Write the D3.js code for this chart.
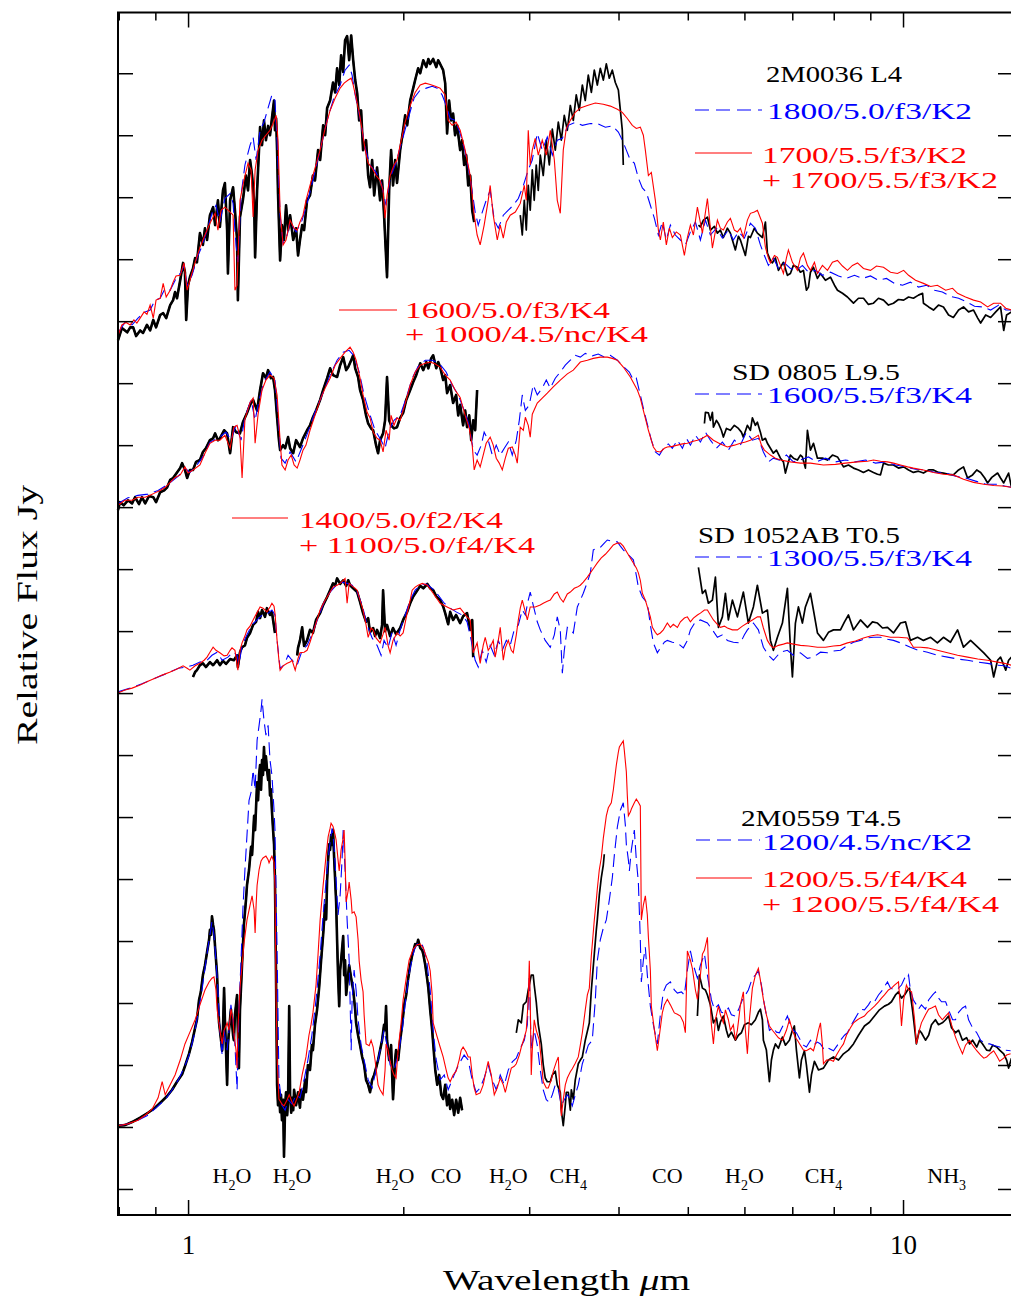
<!DOCTYPE html>
<html>
<head>
<meta charset="utf-8">
<script src="https://cdn.jsdelivr.net/npm/d3@7"></script>
<style>
  body { margin: 0; background: #fff; }
  svg { display: block; }
</style>
</head>
<body>
<script>
// Spectra: [wavelength (µm), relative flux (Jy, offset per object)]; null marks a gap between instruments.

// ---- 2M0036 L4 ----
const obs2M0036 = [
[0.798,13.69],[0.808,13.89],[0.822,13.82],[0.830,13.90],[0.838,13.90],[0.846,13.76],[0.857,13.85],[0.865,13.81],[0.876,13.94],[0.885,13.85],
[0.894,14.02],[0.902,13.90],[0.914,14.10],[0.923,14.13],[0.932,14.05],[0.944,14.26],[0.953,14.34],[0.959,14.47],[0.965,14.37],[0.975,14.66],
[0.984,14.94],[0.990,14.79],[0.994,14.02],[1.000,14.58],[1.006,14.71],[1.016,14.85],[1.023,15.02],[1.029,14.95],[1.039,15.42],[1.049,15.23],
[1.056,15.50],[1.063,15.31],[1.073,15.71],[1.084,15.84],[1.091,15.55],[1.101,15.95],[1.108,15.52],[1.119,16.11],[1.126,16.23],[1.134,15.47],
[1.137,14.77],[1.145,15.95],[1.156,16.16],[1.163,15.79],[1.171,15.31],[1.174,14.34],[1.182,15.68],[1.193,15.95],[1.205,16.35],[1.213,16.11],
[1.221,16.60],[1.229,16.35],[1.237,15.95],[1.241,15.03],[1.249,16.11],[1.261,17.13],[1.269,16.84],[1.277,17.24],[1.285,16.92],[1.294,17.15],
[1.302,17.00],[1.310,17.27],[1.319,17.56],[1.323,17.08],[1.328,17.27],[1.332,16.76],[1.336,16.06],[1.345,14.98],[1.353,15.55],[1.362,15.31],
[1.371,15.87],[1.380,15.47],[1.389,15.71],[1.403,15.31],[1.416,15.50],[1.425,15.06],[1.434,15.31],[1.444,15.55],[1.453,15.47],[1.467,15.95],
[1.481,16.03],[1.495,16.35],[1.505,16.27],[1.520,16.76],[1.530,16.60],[1.545,17.16],[1.555,17.00],[1.565,17.44],[1.580,17.56],[1.595,17.85],
[1.606,17.69],[1.616,18.08],[1.627,17.81],[1.637,18.29],[1.648,18.02],[1.658,18.53],[1.669,18.60],[1.680,18.21],[1.691,18.61],[1.702,18.21],
[1.713,17.89],[1.724,17.68],[1.735,17.24],[1.746,17.40],[1.757,16.76],[1.774,16.92],[1.786,16.35],[1.797,16.16],[1.809,16.60],[1.821,16.03],
[1.838,16.48],[1.856,15.95],[1.868,16.27],[1.880,15.71],[1.898,14.71],[1.911,16.11],[1.923,16.76],[1.935,16.19],[1.948,16.60],[1.960,16.23],
[1.980,16.76],[1.999,17.08],[2.012,17.32],[2.025,17.16],[2.045,17.56],[2.065,17.76],[2.078,17.89],[2.098,18.08],[2.112,18.00],[2.133,18.21],
[2.154,18.10],[2.168,18.23],[2.181,18.15],[2.202,18.23],[2.224,18.10],[2.238,18.21],[2.252,18.15],[2.274,18.05],[2.289,17.84],[2.303,17.03],
[2.318,17.56],[2.333,17.24],[2.348,17.35],[2.363,17.00],[2.379,17.16],[2.402,16.76],[2.417,16.92],[2.433,16.52],[2.449,16.68],[2.465,16.19],
[2.481,16.35],[2.497,15.79],[2.513,15.60],[2.6,null],
[2.915,15.71],[2.934,15.39],[2.953,15.95],[2.972,15.47],[2.991,16.19],[3.010,15.79],[3.030,16.44],[3.049,15.95],[3.069,16.52],[3.089,16.11],
[3.109,16.68],[3.139,16.35],[3.170,16.92],[3.201,16.52],[3.232,17.10],[3.263,16.76],[3.295,17.21],[3.327,16.92],[3.359,17.32],[3.392,17.08],
[3.425,17.48],[3.458,17.24],[3.491,17.65],[3.525,17.40],[3.560,17.81],[3.594,17.56],[3.629,17.97],[3.665,17.69],[3.700,18.05],[3.736,17.81],
[3.772,18.08],[3.809,17.89],[3.846,18.15],[3.883,17.92],[3.921,18.05],[3.959,17.85],[3.998,17.73],[4.024,17.40],[4.049,17.08],[4.062,16.52],[4.5,null],
[5.174,15.55],[5.207,15.52],[5.258,15.63],[5.326,15.68],[5.377,15.47],[5.447,15.53],[5.500,15.42],[5.553,15.47],[5.607,15.35],[5.680,15.50],
[5.735,15.42],[5.828,15.15],[5.885,15.37],[5.923,15.31],[6.019,15.06],[6.077,15.37],[6.117,15.35],[6.196,15.50],[6.256,15.42],[6.358,15.35],
[6.420,15.60],[6.461,15.10],[6.524,14.98],[6.566,14.94],[6.630,15.02],[6.695,14.82],[6.803,14.95],[6.891,14.74],[6.958,14.77],[7.025,14.90],
[7.117,14.87],[7.186,14.79],[7.256,14.82],[7.326,14.50],[7.374,14.55],[7.422,14.79],[7.494,14.87],[7.591,14.69],[7.665,14.77],[7.789,14.66],
[7.916,14.71],[8.019,14.58],[8.097,14.50],[8.228,14.45],[8.361,14.39],[8.443,14.34],[8.525,14.29],[8.664,14.37],[8.804,14.37],[8.946,14.27],
[9.092,14.29],[9.240,14.37],[9.390,14.34],[9.542,14.26],[9.697,14.29],[9.855,14.35],[10.02,14.34],[10.18,14.39],[10.34,14.37],[10.51,14.42],
[10.65,14.45],[10.68,14.29],[10.86,14.23],[11.03,14.18],[11.21,14.26],[11.39,14.23],[11.58,14.10],[11.76,14.06],[11.96,14.18],[12.15,14.23],
[12.35,14.15],[12.55,14.18],[12.72,14.05],[12.84,13.97],[13.05,14.10],[13.26,14.06],[13.48,14.15],[13.69,14.23],[13.83,13.85],[13.96,14.10],[14.18,14.15]
];
const blue2M0036 = [
[0.798,13.81],[0.816,13.98],[0.835,13.94],[0.851,14.05],[0.871,14.15],[0.885,14.18],[0.899,14.34],[0.914,14.37],[0.929,14.53],[0.944,14.50],
[0.962,14.69],[0.978,14.79],[0.987,14.90],[0.997,14.58],[1.013,14.74],[1.029,15.02],[1.046,15.21],[1.063,15.47],[1.080,15.74],[1.094,15.87],
[1.108,15.60],[1.126,15.98],[1.145,16.06],[1.156,15.90],[1.167,15.23],[1.174,14.95],[1.186,16.03],[1.201,16.52],[1.221,16.84],[1.233,16.97],
[1.245,16.60],[1.261,17.08],[1.277,17.21],[1.294,17.44],[1.310,17.65],[1.323,17.56],[1.332,16.92],[1.345,15.71],[1.358,15.26],[1.376,15.39],
[1.389,15.60],[1.416,15.44],[1.444,15.63],[1.467,15.90],[1.495,16.27],[1.530,16.76],[1.565,17.24],[1.600,17.61],[1.632,17.81],[1.658,18.05],
[1.680,18.13],[1.696,17.97],[1.713,17.65],[1.740,17.27],[1.769,16.79],[1.797,16.52],[1.832,16.40],[1.862,16.24],[1.892,15.87],[1.917,16.31],
[1.954,16.56],[1.993,16.92],[2.032,17.27],[2.071,17.60],[2.112,17.73],[2.154,17.76],[2.195,17.79],[2.231,17.76],[2.267,17.65],[2.296,17.48],
[2.326,17.27],[2.363,17.24],[2.402,17.03],[2.441,16.73],[2.481,16.31],[2.521,15.76],[2.546,15.55],[2.571,15.71],[2.612,15.95],[2.646,16.11],
[2.681,15.63],[2.716,15.50],[2.760,15.71],[2.805,15.79],[2.850,15.87],[2.897,15.98],[2.944,16.19],[2.991,16.44],[3.030,16.60],[3.079,17.03],
[3.129,16.76],[3.180,16.97],[3.232,16.68],[3.284,16.92],[3.338,16.95],[3.403,17.16],[3.480,17.21],[3.560,17.16],[3.653,17.19],[3.748,17.18],
[3.834,17.13],[3.921,17.15],[3.998,17.05],[4.049,16.92],[4.102,16.76],[4.155,16.60],[4.209,16.55],[4.264,16.31],[4.319,16.15],[4.375,16.08],
[4.432,15.87],[4.490,15.66],[4.548,15.39],[4.606,15.60],[4.666,15.31],[4.727,15.55],[4.803,15.39],[4.882,15.31],[4.961,15.23],[5.042,15.44],
[5.124,15.60],[5.207,15.31],[5.292,15.63],[5.377,15.39],[5.483,15.50],[5.589,15.34],[5.698,15.47],[5.790,15.31],[5.885,15.44],[6.000,15.34],
[6.117,15.58],[6.216,15.50],[6.317,15.23],[6.399,15.06],[6.482,14.90],[6.587,15.02],[6.695,14.85],[6.825,14.94],[6.958,14.85],[7.094,14.82],
[7.232,14.90],[7.374,14.79],[7.543,14.82],[7.714,14.74],[7.916,14.79],[8.123,14.73],[8.334,14.69],[8.553,14.74],[8.776,14.69],[9.005,14.73],
[9.240,14.66],[9.481,14.69],[9.729,14.61],[9.984,14.58],[10.24,14.63],[10.51,14.55],[10.79,14.58],[11.07,14.50],[11.35,14.47],[11.65,14.40],
[11.96,14.37],[12.27,14.31],[12.59,14.24],[12.92,14.23],[13.26,14.18],[13.61,14.26],[13.92,14.18],[14.18,14.18]
];
const red2M0036 = [
[0.798,13.77],[0.808,13.94],[0.819,13.98],[0.830,13.94],[0.840,14.02],[0.848,13.97],[0.857,14.05],[0.868,14.15],[0.876,14.11],[0.885,14.26],
[0.894,14.05],[0.902,14.34],[0.914,14.37],[0.923,14.61],[0.932,14.39],[0.944,14.50],[0.953,14.63],[0.962,14.73],[0.975,14.74],[0.987,14.94],
[0.997,14.50],[1.006,14.66],[1.023,14.95],[1.039,15.19],[1.056,15.39],[1.073,15.58],[1.091,15.74],[1.101,15.47],[1.112,15.79],[1.126,15.84],
[1.145,15.76],[1.156,15.71],[1.163,14.50],[1.171,14.58],[1.182,15.95],[1.197,16.27],[1.213,16.55],[1.225,16.44],[1.233,15.68],[1.241,16.44],
[1.253,16.76],[1.269,16.92],[1.285,17.00],[1.302,17.08],[1.315,17.19],[1.328,17.32],[1.336,16.92],[1.345,15.79],[1.358,15.23],[1.371,15.31],
[1.389,15.63],[1.407,15.50],[1.421,15.47],[1.434,15.60],[1.448,15.71],[1.462,15.95],[1.481,16.19],[1.505,16.47],[1.530,16.76],[1.555,17.11],
[1.580,17.40],[1.606,17.60],[1.632,17.76],[1.653,17.84],[1.675,17.89],[1.691,17.92],[1.702,17.81],[1.718,17.60],[1.735,17.37],[1.752,17.08],
[1.769,16.76],[1.786,16.55],[1.809,16.47],[1.832,16.35],[1.856,16.27],[1.874,16.11],[1.886,15.66],[1.898,16.03],[1.917,16.35],[1.941,16.52],
[1.960,16.60],[1.980,16.84],[2.012,17.21],[2.045,17.48],[2.078,17.69],[2.112,17.81],[2.147,17.84],[2.181,17.82],[2.217,17.79],[2.252,17.76],
[2.289,17.65],[2.311,17.24],[2.341,17.16],[2.371,17.21],[2.402,17.08],[2.441,16.76],[2.481,16.35],[2.513,15.71],[2.537,15.39],[2.562,15.23],
[2.595,15.55],[2.629,15.95],[2.646,16.19],[2.672,15.71],[2.707,15.31],[2.733,15.55],[2.760,15.34],[2.787,15.60],[2.822,15.71],[2.869,15.76],
[2.915,15.90],[2.953,16.19],[2.972,15.95],[2.991,17.08],[3.010,16.52],[3.030,16.76],[3.059,16.95],[3.089,16.68],[3.129,16.92],[3.170,16.68],
[3.211,17.08],[3.253,16.60],[3.284,15.95],[3.316,15.74],[3.348,16.76],[3.381,17.11],[3.425,17.24],[3.480,17.37],[3.537,17.44],[3.618,17.48],
[3.712,17.52],[3.809,17.50],[3.896,17.47],[3.985,17.42],[4.049,17.37],[4.115,17.27],[4.182,17.16],[4.236,17.11],[4.291,17.13],[4.333,17.00],
[4.361,16.76],[4.404,16.35],[4.446,16.40],[4.504,15.95],[4.548,15.47],[4.577,15.31],[4.621,15.60],[4.666,15.23],[4.712,15.50],[4.757,15.35],
[4.819,15.44],[4.882,15.39],[4.945,15.06],[4.993,15.35],[5.042,15.55],[5.091,15.39],[5.157,15.84],[5.241,15.42],[5.326,15.98],[5.412,15.18],
[5.500,15.63],[5.553,15.50],[5.607,15.47],[5.680,15.60],[5.735,15.66],[5.809,15.47],[5.866,15.44],[5.923,15.50],[5.980,15.35],[6.058,15.63],
[6.117,15.74],[6.196,15.76],[6.256,15.79],[6.358,15.58],[6.420,15.19],[6.482,15.02],[6.524,14.94],[6.609,15.06],[6.673,15.03],[6.738,14.90],
[6.803,14.77],[6.869,15.02],[6.913,15.15],[7.003,14.95],[7.117,14.82],[7.186,15.02],[7.256,15.10],[7.350,14.90],[7.422,14.82],[7.518,14.95],
[7.591,14.77],[7.714,14.90],[7.840,14.82],[7.967,14.95],[8.097,14.98],[8.228,14.89],[8.361,14.82],[8.497,14.90],[8.636,14.94],[8.804,14.85],
[9.005,14.82],[9.181,14.89],[9.390,14.87],[9.604,14.79],[9.823,14.77],[10.02,14.82],[10.18,14.74],[10.41,14.66],[10.68,14.61],[10.93,14.56],
[11.17,14.58],[11.47,14.50],[11.73,14.53],[11.92,14.45],[12.23,14.39],[12.55,14.34],[12.84,14.31],[13.13,14.23],[13.39,14.29],[13.69,14.29],
[13.92,14.21],[14.18,14.18]
];

// ---- SD 0805 L9.5 ----
const obsSD0805 = [
[0.798,10.95],[0.803,11.08],[0.813,11.03],[0.824,11.11],[0.835,11.06],[0.843,11.16],[0.854,11.05],[0.862,11.16],[0.871,11.06],[0.882,11.18],
[0.894,11.16],[0.902,11.08],[0.914,11.24],[0.926,11.27],[0.935,11.32],[0.944,11.44],[0.953,11.47],[0.965,11.56],[0.975,11.63],[0.981,11.71],
[0.990,11.60],[0.997,11.47],[1.006,11.60],[1.016,11.60],[1.026,11.73],[1.039,11.76],[1.049,11.89],[1.059,11.95],[1.073,12.08],[1.084,12.11],
[1.091,12.19],[1.101,12.08],[1.108,12.11],[1.123,12.24],[1.134,12.19],[1.145,11.87],[1.156,12.29],[1.167,12.21],[1.182,12.19],[1.193,12.37],
[1.209,12.52],[1.221,12.65],[1.233,12.73],[1.249,12.56],[1.261,12.89],[1.273,13.16],[1.285,13.08],[1.294,13.21],[1.306,13.08],[1.315,13.10],
[1.323,12.89],[1.332,12.45],[1.340,12.08],[1.345,11.92],[1.358,12.00],[1.367,11.95],[1.380,12.13],[1.389,11.95],[1.403,11.87],[1.416,12.08],
[1.434,11.97],[1.448,12.11],[1.467,12.24],[1.481,12.32],[1.495,12.45],[1.510,12.56],[1.530,12.73],[1.545,12.89],[1.565,13.08],[1.580,13.24],
[1.595,13.13],[1.616,13.10],[1.632,13.29],[1.648,13.42],[1.664,13.21],[1.675,13.26],[1.691,13.37],[1.702,13.45],[1.713,13.24],[1.729,13.10],
[1.740,12.89],[1.757,12.73],[1.774,12.48],[1.786,12.35],[1.803,12.27],[1.815,12.24],[1.832,12.00],[1.844,11.87],[1.856,12.08],[1.874,12.19],
[1.886,12.40],[1.898,13.10],[1.911,12.40],[1.923,12.32],[1.941,12.27],[1.960,12.29],[1.980,12.44],[1.999,12.52],[2.019,12.73],[2.045,12.89],
[2.065,13.02],[2.085,13.13],[2.112,13.32],[2.133,13.21],[2.154,13.34],[2.168,13.24],[2.188,13.40],[2.202,13.45],[2.224,13.24],[2.238,13.34],
[2.252,13.26],[2.274,13.05],[2.289,13.13],[2.303,12.84],[2.326,12.97],[2.348,12.68],[2.371,12.81],[2.387,12.48],[2.402,12.65],[2.425,12.32],
[2.441,12.56],[2.456,12.29],[2.473,12.48],[2.489,12.08],[2.505,12.40],[2.521,12.24],[2.537,12.89],[3.5,null],
[5.275,12.35],[5.292,12.53],[5.343,12.52],[5.377,12.40],[5.412,12.53],[5.430,12.29],[5.483,12.40],[5.518,12.35],[5.571,12.24],[5.607,12.13],
[5.662,12.27],[5.735,12.24],[5.809,12.32],[5.885,12.27],[5.942,12.21],[5.980,12.13],[6.058,12.32],[6.117,12.24],[6.156,12.44],[6.216,12.32],
[6.256,12.37],[6.317,12.21],[6.358,12.08],[6.420,12.11],[6.461,12.03],[6.524,11.95],[6.587,11.87],[6.652,11.92],[6.738,11.79],[6.803,11.73],
[6.847,11.55],[6.913,11.73],[6.958,11.84],[7.025,11.79],[7.117,11.76],[7.186,11.84],[7.232,11.81],[7.302,11.63],[7.350,12.24],[7.422,11.92],
[7.494,12.03],[7.591,11.79],[7.714,11.79],[7.840,11.76],[7.967,11.84],[8.097,11.81],[8.255,11.65],[8.388,11.68],[8.525,11.63],[8.664,11.60],
[8.804,11.56],[8.946,11.60],[9.092,11.56],[9.210,11.53],[9.300,11.52],[9.390,11.71],[9.542,11.68],[9.697,11.68],[9.855,11.63],[10.02,11.65],
[10.18,11.60],[10.34,11.56],[10.51,11.58],[10.68,11.55],[10.86,11.60],[11.03,11.60],[11.21,11.56],[11.39,11.55],[11.58,11.53],[11.76,11.52],
[11.96,11.60],[12.15,11.65],[12.31,11.47],[12.51,11.52],[12.68,11.60],[12.84,11.56],[13.01,11.47],[13.13,11.39],[13.31,11.48],[13.56,11.55],
[13.69,11.47],[13.83,11.39],[14.05,11.55],[14.18,11.32]
];
const blueSD0805 = [
[0.798,11.06],[0.824,11.15],[0.851,11.19],[0.879,11.21],[0.908,11.27],[0.938,11.37],[0.969,11.50],[0.990,11.63],[1.006,11.56],[1.029,11.68],
[1.053,11.84],[1.073,12.05],[1.101,12.11],[1.130,12.21],[1.148,12.08],[1.167,12.32],[1.186,12.08],[1.201,12.45],[1.225,12.73],[1.241,12.40],
[1.257,12.73],[1.277,13.02],[1.302,13.18],[1.323,13.05],[1.336,12.45],[1.349,11.79],[1.367,11.71],[1.389,11.89],[1.416,11.73],[1.444,11.97],
[1.471,12.21],[1.505,12.53],[1.540,12.81],[1.580,13.13],[1.616,13.37],[1.648,13.50],[1.680,13.53],[1.707,13.44],[1.735,13.18],[1.763,12.81],
[1.792,12.53],[1.826,12.24],[1.862,12.08],[1.886,11.95],[1.911,12.24],[1.941,12.40],[1.980,12.48],[2.019,12.76],[2.058,13.08],[2.098,13.27],
[2.147,13.37],[2.195,13.37],[2.245,13.32],[2.296,13.18],[2.341,12.97],[2.387,12.81],[2.433,12.56],[2.473,12.32],[2.505,11.92],[2.537,11.84],
[2.571,12.00],[2.595,12.21],[2.629,12.08],[2.664,11.84],[2.698,12.00],[2.733,11.84],[2.769,11.95],[2.805,12.05],[2.841,11.84],[2.878,12.08],
[2.906,12.40],[2.934,12.81],[2.963,12.56],[3.001,12.65],[3.039,12.97],[3.079,12.81],[3.129,12.92],[3.170,13.05],[3.211,12.92],[3.263,13.08],
[3.316,13.18],[3.370,13.29],[3.425,13.37],[3.480,13.45],[3.537,13.42],[3.594,13.48],[3.676,13.44],[3.748,13.47],[3.821,13.42],[3.896,13.45],
[3.985,13.37],[4.062,13.27],[4.142,13.18],[4.196,13.05],[4.236,13.08],[4.291,12.81],[4.347,12.53],[4.404,12.27],[4.446,12.08],[4.504,11.89],
[4.563,11.84],[4.636,11.97],[4.696,12.02],[4.757,11.95],[4.835,12.08],[4.914,11.95],[4.977,12.11],[5.042,12.00],[5.124,12.16],[5.207,12.05],
[5.292,12.21],[5.377,12.08],[5.483,11.95],[5.589,12.05],[5.698,11.92],[5.809,12.08],[5.923,12.00],[6.038,12.21],[6.156,12.08],[6.276,12.11],
[6.378,11.89],[6.482,11.73],[6.587,11.79],[6.716,11.76],[6.869,11.84],[7.025,11.73],[7.186,11.76],[7.374,11.81],[7.567,11.73],[7.789,11.79],
[8.045,11.73],[8.308,11.76],[8.580,11.73],[8.861,11.76],[9.151,11.71],[9.450,11.73],[9.760,11.68],[10.08,11.65],[10.41,11.61],[10.75,11.60],
[11.10,11.56],[11.47,11.55],[11.84,11.50],[12.23,11.47],[12.63,11.42],[13.05,11.37],[13.48,11.37],[13.87,11.34],[14.18,11.32]
];
const redSD0805 = [
[0.798,11.03],[0.816,11.11],[0.835,11.11],[0.851,11.16],[0.871,11.16],[0.885,11.19],[0.899,11.23],[0.914,11.27],[0.929,11.32],[0.944,11.40],
[0.959,11.48],[0.975,11.52],[0.990,11.65],[1.000,11.55],[1.016,11.60],[1.039,11.68],[1.056,11.87],[1.073,12.03],[1.091,12.08],[1.108,12.08],
[1.126,12.16],[1.145,11.95],[1.159,12.29],[1.171,12.32],[1.182,12.13],[1.190,11.47],[1.201,12.42],[1.221,12.69],[1.233,12.76],[1.241,12.03],
[1.253,12.50],[1.269,12.89],[1.285,13.05],[1.302,13.13],[1.319,13.08],[1.332,12.81],[1.345,12.08],[1.353,11.68],[1.367,11.60],[1.380,11.76],
[1.394,11.84],[1.407,11.68],[1.421,11.63],[1.434,11.76],[1.448,11.92],[1.462,12.00],[1.481,12.24],[1.505,12.48],[1.530,12.73],[1.555,12.92],
[1.580,13.08],[1.606,13.29],[1.632,13.40],[1.658,13.50],[1.685,13.58],[1.702,13.50],[1.718,13.37],[1.740,13.08],[1.757,12.81],[1.780,12.53],
[1.797,12.44],[1.815,12.21],[1.838,12.11],[1.856,12.08],[1.874,11.89],[1.892,12.24],[1.911,12.08],[1.923,12.48],[1.941,12.32],[1.960,12.44],
[1.980,12.40],[1.999,12.56],[2.019,12.73],[2.045,12.97],[2.078,13.18],[2.112,13.29],[2.147,13.32],[2.181,13.34],[2.217,13.31],[2.252,13.26],
[2.289,13.13],[2.326,13.05],[2.363,12.89],[2.402,12.77],[2.441,12.48],[2.473,12.27],[2.497,12.00],[2.513,11.60],[2.537,11.76],[2.562,11.65],
[2.587,11.84],[2.612,12.03],[2.646,12.13],[2.672,12.00],[2.698,11.79],[2.724,11.71],[2.751,11.60],[2.778,11.79],[2.805,11.95],[2.841,11.97],
[2.869,11.84],[2.887,11.71],[2.915,12.29],[2.944,12.24],[2.963,12.45],[2.991,12.32],[3.010,12.13],[3.030,12.50],[3.079,12.68],[3.129,12.76],
[3.180,12.84],[3.242,12.94],[3.316,13.05],[3.392,13.15],[3.458,13.21],[3.537,13.34],[3.618,13.37],[3.688,13.40],[3.772,13.42],[3.858,13.42],
[3.921,13.40],[3.985,13.37],[4.062,13.26],[4.155,13.10],[4.250,12.89],[4.291,12.76],[4.333,12.56],[4.375,12.37],[4.404,12.24],[4.446,12.08],
[4.475,11.97],[4.519,11.90],[4.577,11.89],[4.636,11.95],[4.681,11.97],[4.757,11.98],[4.835,12.00],[4.914,12.02],[4.993,12.03],[5.074,12.06],
[5.157,12.08],[5.241,12.11],[5.326,12.16],[5.430,12.08],[5.553,12.02],[5.680,11.97],[5.809,12.00],[5.923,12.03],[6.019,12.05],[6.117,12.08],
[6.216,12.13],[6.276,12.16],[6.338,12.00],[6.399,11.92],[6.524,11.84],[6.630,11.79],[6.738,11.76],[6.958,11.73],[7.186,11.71],[7.422,11.71],
[7.739,11.68],[8.045,11.69],[8.308,11.71],[8.636,11.73],[8.918,11.74],[9.092,11.76],[9.300,11.74],[9.512,11.73],[9.697,11.71],[9.919,11.68],
[10.15,11.65],[10.34,11.63],[10.68,11.60],[11.03,11.56],[11.39,11.53],[11.76,11.52],[12.15,11.45],[12.55,11.40],[12.97,11.37],[13.39,11.35],
[13.78,11.34],[14.18,11.32]
];

// ---- SD 1052AB T0.5 ----
const obsSD1052 = [
[1.016,8.26],[1.023,8.34],[1.029,8.37],[1.039,8.45],[1.049,8.48],[1.059,8.42],[1.073,8.50],[1.084,8.45],[1.098,8.53],[1.108,8.45],
[1.119,8.52],[1.130,8.47],[1.145,8.55],[1.159,8.53],[1.171,8.61],[1.174,8.42],[1.182,8.66],[1.190,8.74],[1.201,8.77],[1.209,8.89],
[1.221,8.97],[1.233,9.10],[1.245,9.15],[1.253,9.31],[1.261,9.21],[1.269,9.34],[1.281,9.23],[1.289,9.37],[1.302,9.26],[1.310,9.31],
[1.315,9.18],[1.323,8.97],[1.37,null],
[1.421,8.61],[1.425,8.73],[1.434,8.85],[1.444,9.06],[1.453,8.76],[1.467,8.85],[1.481,9.02],[1.495,8.97],[1.510,9.18],[1.530,9.29],
[1.545,9.42],[1.565,9.55],[1.580,9.66],[1.595,9.77],[1.606,9.74],[1.616,9.85],[1.632,9.76],[1.648,9.82],[1.664,9.73],[1.675,9.82],
[1.685,9.74],[1.702,9.69],[1.724,9.63],[1.740,9.47],[1.757,9.29],[1.774,9.15],[1.786,9.21],[1.797,8.98],[1.815,9.05],[1.826,8.92],
[1.838,9.02],[1.856,8.89],[1.868,9.10],[1.874,9.66],[1.886,9.00],[1.898,9.10],[1.917,8.92],[1.935,9.05],[1.954,8.95],[1.980,9.05],
[1.999,9.18],[2.025,9.31],[2.045,9.45],[2.065,9.56],[2.085,9.63],[2.112,9.73],[2.133,9.69],[2.161,9.76],[2.181,9.69],[2.202,9.66],
[2.224,9.56],[2.252,9.50],[2.274,9.40],[2.289,9.29],[2.311,9.11],[2.326,9.31],[2.348,9.18],[2.371,9.26],[2.402,9.13],[2.425,9.24],
[2.456,9.29],[2.481,9.02],[2.497,9.18],[2.505,8.58],[3.5,null],
[5.174,10.03],[5.241,9.61],[5.292,9.66],[5.343,9.45],[5.412,9.50],[5.465,9.87],[5.518,9.06],[5.589,9.23],[5.644,9.61],[5.698,9.18],
[5.772,9.50],[5.866,9.23],[5.980,9.63],[6.077,9.13],[6.176,9.39],[6.256,9.74],[6.358,9.29],[6.461,9.34],[6.524,8.85],[6.587,8.69],
[6.673,8.90],[6.781,9.13],[6.891,9.69],[6.958,8.74],[7.003,8.26],[7.071,9.13],[7.140,9.39],[7.232,9.13],[7.302,9.39],[7.422,9.61],
[7.494,9.34],[7.591,8.97],[7.739,8.85],[7.865,8.98],[7.993,9.02],[8.175,9.02],[8.282,9.15],[8.388,9.26],[8.525,9.02],[8.719,9.18],
[8.918,9.06],[9.063,9.15],[9.210,9.13],[9.360,9.05],[9.512,9.06],[9.697,8.97],[9.919,9.13],[10.08,9.15],[10.24,8.85],[10.48,8.90],
[10.68,8.85],[10.93,8.90],[11.17,8.81],[11.39,8.90],[11.65,8.82],[11.92,9.02],[12.15,8.74],[12.43,8.85],[12.72,8.74],[12.97,8.65],
[13.26,8.53],[13.39,8.26],[13.56,8.53],[13.69,8.58],[13.92,8.37],[14.05,8.53],[14.18,8.58]
];
const blueSD1052 = [
[0.798,8.02],[0.830,8.08],[0.862,8.15],[0.899,8.24],[0.935,8.32],[0.969,8.40],[0.994,8.42],[1.016,8.45],[1.039,8.50],[1.063,8.53],
[1.080,8.61],[1.098,8.66],[1.116,8.53],[1.137,8.58],[1.156,8.66],[1.171,8.61],[1.178,8.45],[1.190,8.77],[1.209,8.94],[1.229,9.10],
[1.249,9.18],[1.269,9.26],[1.289,9.27],[1.310,9.34],[1.323,9.26],[1.332,8.85],[1.345,8.40],[1.362,8.45],[1.380,8.61],[1.398,8.53],
[1.421,8.45],[1.444,8.69],[1.467,8.77],[1.490,8.94],[1.520,9.21],[1.550,9.47],[1.580,9.63],[1.611,9.74],[1.642,9.79],[1.669,9.77],
[1.696,9.74],[1.724,9.63],[1.752,9.42],[1.780,9.10],[1.809,8.89],[1.838,8.77],[1.862,8.61],[1.880,8.85],[1.904,8.73],[1.929,8.98],
[1.954,8.77],[1.980,9.02],[2.012,9.26],[2.045,9.50],[2.078,9.66],[2.112,9.74],[2.154,9.76],[2.195,9.69],[2.238,9.58],[2.282,9.45],
[2.326,9.37],[2.371,9.31],[2.417,9.26],[2.456,9.15],[2.489,8.85],[2.521,8.53],[2.546,8.42],[2.579,8.69],[2.612,8.50],[2.646,8.77],
[2.681,8.61],[2.716,8.85],[2.751,8.69],[2.787,8.85],[2.822,8.77],[2.859,9.02],[2.897,9.10],[2.934,9.34],[2.963,9.26],[2.991,9.50],
[3.010,9.63],[3.039,9.42],[3.079,9.15],[3.109,9.02],[3.159,8.85],[3.211,8.74],[3.253,8.94],[3.284,9.23],[3.316,9.02],[3.338,8.32],
[3.359,8.69],[3.392,9.06],[3.425,9.02],[3.458,8.97],[3.503,9.39],[3.537,9.50],[3.571,9.61],[3.618,9.79],[3.653,9.94],[3.688,10.31],
[3.736,10.34],[3.772,10.35],[3.821,10.42],[3.858,10.47],[3.921,10.45],[3.985,10.44],[4.024,10.37],[4.062,10.31],[4.129,10.23],[4.196,10.15],
[4.236,9.90],[4.264,9.71],[4.319,9.55],[4.389,9.45],[4.432,9.10],[4.475,8.81],[4.533,8.65],[4.577,8.73],[4.636,8.82],[4.681,8.85],
[4.757,8.82],[4.835,8.81],[4.929,8.73],[4.993,8.85],[5.042,9.02],[5.124,9.15],[5.207,9.18],[5.326,9.13],[5.412,9.02],[5.500,8.90],
[5.589,8.94],[5.680,8.85],[5.790,8.82],[5.923,8.81],[6.000,8.94],[6.058,9.02],[6.176,9.13],[6.276,9.02],[6.378,8.74],[6.482,8.61],
[6.587,8.53],[6.738,8.66],[6.891,8.69],[7.025,8.61],[7.186,8.65],[7.350,8.56],[7.494,8.58],[7.665,8.66],[7.840,8.65],[7.993,8.68],
[8.175,8.69],[8.361,8.77],[8.525,8.82],[8.719,8.85],[8.918,8.89],[9.092,8.90],[9.300,8.90],[9.512,8.87],[9.697,8.85],[9.919,8.81],
[10.24,8.74],[10.51,8.69],[10.82,8.66],[11.17,8.61],[11.54,8.58],[11.92,8.55],[12.31,8.53],[12.72,8.50],[13.13,8.48],[13.56,8.45],
[13.87,8.44],[14.18,8.40]
];
const redSD1052 = [
[0.798,8.00],[0.816,8.05],[0.835,8.08],[0.857,8.13],[0.879,8.19],[0.899,8.24],[0.920,8.29],[0.944,8.34],[0.965,8.39],[0.984,8.44],
[0.997,8.40],[1.006,8.37],[1.023,8.44],[1.039,8.48],[1.053,8.53],[1.063,8.58],[1.073,8.66],[1.084,8.74],[1.094,8.69],[1.108,8.65],
[1.123,8.60],[1.134,8.61],[1.145,8.69],[1.152,8.73],[1.163,8.69],[1.174,8.37],[1.182,8.69],[1.190,8.81],[1.201,8.92],[1.209,9.02],
[1.221,9.08],[1.233,9.18],[1.245,9.27],[1.261,9.39],[1.273,9.37],[1.289,9.31],[1.302,9.39],[1.310,9.45],[1.319,9.40],[1.323,9.29],
[1.332,8.85],[1.340,8.53],[1.345,8.37],[1.358,8.44],[1.376,8.48],[1.389,8.50],[1.398,8.53],[1.412,8.37],[1.425,8.56],[1.434,8.65],
[1.453,8.66],[1.467,8.69],[1.481,8.82],[1.495,8.97],[1.515,9.18],[1.530,9.34],[1.550,9.47],[1.565,9.55],[1.580,9.63],[1.595,9.71],
[1.616,9.74],[1.632,9.77],[1.648,9.82],[1.658,9.85],[1.669,9.45],[1.680,9.77],[1.696,9.73],[1.713,9.69],[1.724,9.66],[1.740,9.50],
[1.757,9.34],[1.774,9.10],[1.786,8.90],[1.803,9.05],[1.815,9.02],[1.832,8.89],[1.856,8.81],[1.874,8.95],[1.886,9.06],[1.904,8.77],
[1.917,8.65],[1.935,8.85],[1.960,8.97],[1.980,8.92],[1.999,8.97],[2.025,9.29],[2.045,9.50],[2.058,9.66],[2.078,9.71],[2.098,9.74],
[2.126,9.77],[2.161,9.74],[2.202,9.61],[2.252,9.45],[2.303,9.39],[2.348,9.34],[2.402,9.37],[2.456,9.23],[2.481,9.18],[2.505,8.65],
[2.537,8.81],[2.562,8.48],[2.587,8.77],[2.604,8.90],[2.629,8.69],[2.646,8.74],[2.672,8.85],[2.689,8.58],[2.716,8.85],[2.733,9.06],
[2.760,8.53],[2.778,8.73],[2.805,8.85],[2.832,8.69],[2.850,8.65],[2.878,8.94],[2.897,9.18],[2.915,9.37],[2.934,9.50],[2.963,9.31],
[2.982,9.18],[3.010,9.39],[3.059,9.39],[3.109,9.42],[3.139,9.45],[3.180,9.48],[3.211,9.50],[3.253,9.60],[3.284,9.63],[3.316,9.53],
[3.348,9.47],[3.392,9.60],[3.425,9.63],[3.469,9.69],[3.503,9.71],[3.537,9.74],[3.571,9.79],[3.618,9.87],[3.653,9.94],[3.700,10.03],
[3.736,10.10],[3.784,10.18],[3.834,10.24],[3.883,10.31],[3.934,10.39],[3.985,10.42],[4.024,10.42],[4.062,10.37],[4.115,10.26],[4.155,10.18],
[4.196,10.10],[4.236,10.02],[4.264,9.94],[4.291,9.82],[4.319,9.61],[4.361,9.50],[4.389,9.39],[4.432,9.23],[4.461,9.06],[4.504,8.98],
[4.533,8.94],[4.577,8.97],[4.621,9.02],[4.681,9.13],[4.727,9.06],[4.772,9.11],[4.835,9.06],[4.882,9.15],[4.945,9.21],[4.993,9.23],
[5.042,9.15],[5.091,9.21],[5.157,9.26],[5.207,9.29],[5.275,9.34],[5.326,9.34],[5.377,9.26],[5.430,9.18],[5.500,9.11],[5.553,9.06],
[5.625,9.08],[5.680,9.05],[5.772,9.02],[5.866,9.02],[5.961,9.08],[6.058,9.13],[6.156,9.18],[6.256,9.23],[6.317,9.23],[6.378,9.05],
[6.461,8.85],[6.524,8.77],[6.587,8.73],[6.695,8.77],[6.803,8.79],[6.891,8.81],[7.025,8.79],[7.186,8.77],[7.374,8.76],[7.591,8.74],
[7.789,8.74],[7.993,8.76],[8.175,8.77],[8.361,8.81],[8.580,8.84],[8.804,8.89],[9.005,8.92],[9.210,8.94],[9.420,8.92],[9.604,8.90],
[9.855,8.90],[10.15,8.89],[10.34,8.74],[10.58,8.74],[10.82,8.73],[11.17,8.69],[11.54,8.65],[11.92,8.61],[12.31,8.58],[12.72,8.55],
[13.13,8.53],[13.56,8.50],[13.87,8.48],[14.18,8.45]
];

// ---- 2M0559 T4.5 ----
const obs2M0559 = [
[0.798,1.02],[0.816,1.03],[0.835,1.08],[0.857,1.15],[0.879,1.23],[0.899,1.31],[0.920,1.42],[0.935,1.50],[0.950,1.60],[0.965,1.73],
[0.981,1.85],[0.990,1.98],[1.003,2.18],[1.013,2.37],[1.023,2.60],[1.029,2.73],[1.036,3.05],[1.042,3.18],[1.049,3.45],[1.056,3.61],
[1.063,3.82],[1.070,4.02],[1.073,4.18],[1.077,4.10],[1.080,4.40],[1.084,4.26],[1.087,4.18],[1.091,3.90],[1.098,3.45],[1.101,3.05],
[1.105,2.68],[1.112,2.40],[1.116,2.23],[1.119,2.56],[1.123,3.24],[1.126,2.73],[1.130,2.24],[1.134,1.68],[1.137,2.32],[1.141,2.56],
[1.148,2.90],[1.156,2.48],[1.159,2.40],[1.163,2.81],[1.171,3.13],[1.174,2.56],[1.178,1.95],[1.182,2.89],[1.190,3.63],[1.197,4.26],
[1.205,4.66],[1.209,4.90],[1.217,5.15],[1.225,5.52],[1.229,5.39],[1.237,6.02],[1.241,5.79],[1.249,6.56],[1.253,6.27],[1.257,6.68],
[1.261,6.84],[1.265,6.44],[1.269,6.92],[1.273,6.68],[1.277,7.13],[1.281,6.76],[1.285,6.98],[1.289,6.79],[1.294,6.60],[1.298,6.76],
[1.302,6.35],[1.306,6.45],[1.310,6.11],[1.315,5.79],[1.319,5.56],[1.323,4.98],[1.328,3.24],[1.332,1.68],[1.336,1.35],[1.340,1.60],
[1.345,1.24],[1.349,1.52],[1.353,1.11],[1.358,1.44],[1.362,0.52],[1.367,1.35],[1.371,1.56],[1.376,1.19],[1.380,1.44],[1.385,2.95],
[1.389,1.52],[1.394,1.23],[1.398,1.47],[1.403,1.27],[1.407,1.60],[1.416,1.35],[1.425,1.56],[1.434,1.31],[1.439,1.60],[1.448,1.44],
[1.458,1.76],[1.462,1.56],[1.471,2.00],[1.481,1.92],[1.490,2.32],[1.495,2.24],[1.505,2.65],[1.515,2.89],[1.525,3.24],[1.535,3.69],
[1.545,4.10],[1.555,4.58],[1.560,4.35],[1.565,4.98],[1.570,5.31],[1.575,5.56],[1.580,5.47],[1.585,5.71],[1.590,5.55],[1.595,5.79],
[1.600,5.39],[1.606,4.98],[1.611,4.63],[1.616,4.02],[1.621,3.45],[1.627,2.95],[1.632,3.53],[1.637,3.69],[1.648,4.08],[1.653,3.45],
[1.658,3.69],[1.664,3.13],[1.669,3.29],[1.680,3.61],[1.691,3.40],[1.702,3.21],[1.713,2.89],[1.718,2.68],[1.729,2.48],[1.740,2.32],
[1.752,2.13],[1.763,2.00],[1.774,1.76],[1.786,1.68],[1.797,1.56],[1.809,1.76],[1.821,1.84],[1.832,1.95],[1.844,2.08],[1.856,2.24],
[1.868,2.40],[1.880,2.65],[1.886,2.56],[1.892,2.95],[1.898,2.40],[1.911,2.08],[1.923,2.32],[1.935,1.45],[1.948,2.08],[1.954,2.24],
[1.967,2.08],[1.980,2.40],[1.993,2.65],[2.006,2.97],[2.019,3.13],[2.032,3.40],[2.045,3.61],[2.058,3.77],[2.078,3.95],[2.091,3.94],
[2.098,4.02],[2.112,3.89],[2.126,3.85],[2.133,3.79],[2.147,3.61],[2.161,3.37],[2.168,3.24],[2.181,2.89],[2.195,2.56],[2.202,2.35],
[2.217,1.92],[2.231,1.68],[2.245,1.84],[2.260,1.52],[2.274,1.45],[2.289,1.68],[2.303,1.35],[2.318,1.52],[2.326,1.29],[2.341,1.44],
[2.356,1.19],[2.371,1.44],[2.387,1.23],[2.402,1.47],[2.417,1.27],[2.6,null],
[2.878,2.52],[2.897,2.73],[2.925,2.68],[2.944,2.97],[2.972,3.02],[2.991,3.21],[3.001,3.29],[3.020,3.45],[3.039,3.45],[3.049,3.29],
[3.069,3.02],[3.089,2.65],[3.119,2.34],[3.139,2.00],[3.159,1.79],[3.180,1.73],[3.211,1.73],[3.232,1.84],[3.263,1.90],[3.284,1.68],
[3.316,1.56],[3.327,1.27],[3.348,1.02],[3.370,1.35],[3.381,1.56],[3.403,1.56],[3.425,1.27],[3.436,1.60],[3.458,1.45],[3.480,1.76],
[3.514,2.02],[3.537,2.08],[3.560,2.13],[3.594,2.40],[3.641,2.68],[3.665,3.21],[3.700,3.79],[3.724,4.18],[3.736,4.34],[3.760,4.74],
[3.784,5.02],[3.809,5.23],[3.821,5.40],[4.5,null],
[5.157,2.79],[5.190,3.45],[5.241,3.24],[5.292,3.21],[5.326,3.13],[5.377,2.97],[5.430,2.68],[5.483,2.76],[5.518,2.56],[5.553,2.69],
[5.607,2.79],[5.662,2.56],[5.698,2.45],[5.753,2.53],[5.828,2.40],[5.885,2.48],[5.942,2.52],[6.000,2.65],[6.077,2.68],[6.136,2.65],
[6.216,2.73],[6.276,2.85],[6.317,2.90],[6.358,2.73],[6.378,2.40],[6.440,2.24],[6.503,1.73],[6.545,2.08],[6.587,2.24],[6.630,2.34],
[6.695,2.27],[6.781,2.45],[6.847,2.32],[6.936,2.40],[7.003,2.56],[7.048,2.63],[7.094,2.24],[7.163,1.79],[7.209,2.08],[7.279,2.23],
[7.326,2.00],[7.398,1.56],[7.446,1.84],[7.518,2.06],[7.616,1.92],[7.739,1.95],[7.865,2.08],[7.993,2.13],[8.123,2.08],[8.255,2.18],
[8.388,2.24],[8.525,2.34],[8.664,2.48],[8.832,2.63],[8.976,2.69],[9.122,2.79],[9.270,2.89],[9.420,2.95],[9.542,2.98],[9.635,3.02],
[9.760,3.13],[9.855,3.18],[9.951,3.08],[10.05,3.13],[10.15,3.21],[10.21,3.24],[10.31,2.89],[10.44,2.34],[10.54,2.56],[10.61,2.52],
[10.75,2.40],[10.86,2.48],[10.96,2.65],[11.10,2.73],[11.21,2.65],[11.35,2.68],[11.47,2.73],[11.58,2.79],[11.69,2.60],[11.84,2.52],
[11.96,2.56],[12.11,2.40],[12.27,2.44],[12.39,2.34],[12.51,2.40],[12.68,2.29],[12.80,2.40],[12.92,2.34],[13.09,2.24],[13.22,2.23],
[13.35,2.32],[13.52,2.29],[13.65,2.24],[13.83,2.18],[13.96,2.08],[14.05,1.95],[14.18,2.11]
];
const blue2M0559 = [
[0.798,1.02],[0.824,1.05],[0.851,1.11],[0.879,1.19],[0.908,1.34],[0.929,1.44],[0.950,1.60],[0.969,1.76],[0.987,1.95],[1.003,2.15],
[1.020,2.48],[1.033,2.85],[1.046,3.21],[1.056,3.56],[1.066,3.89],[1.073,4.10],[1.080,4.31],[1.087,4.10],[1.094,3.69],[1.101,3.21],
[1.108,2.56],[1.116,2.16],[1.123,2.56],[1.134,2.24],[1.141,2.56],[1.148,2.97],[1.156,2.73],[1.163,2.32],[1.171,1.60],[1.178,2.89],
[1.186,3.69],[1.193,4.50],[1.201,5.15],[1.209,5.71],[1.217,6.27],[1.225,6.40],[1.233,6.76],[1.241,6.44],[1.249,7.24],[1.257,7.48],
[1.265,7.73],[1.269,7.90],[1.277,7.56],[1.285,7.32],[1.294,7.48],[1.302,6.92],[1.310,6.68],[1.319,6.11],[1.323,5.79],[1.332,3.85],
[1.340,1.76],[1.353,1.35],[1.367,1.27],[1.380,1.44],[1.398,1.37],[1.416,1.52],[1.434,1.47],[1.453,1.76],[1.471,2.08],[1.490,2.48],
[1.510,3.05],[1.530,3.77],[1.545,4.42],[1.560,4.98],[1.575,5.47],[1.590,5.82],[1.600,5.55],[1.611,4.98],[1.621,4.42],[1.632,4.74],
[1.642,5.31],[1.648,5.79],[1.658,5.15],[1.669,4.34],[1.680,3.69],[1.685,3.05],[1.691,2.24],[1.696,3.05],[1.707,3.53],[1.718,3.21],
[1.729,2.73],[1.746,2.32],[1.763,2.08],[1.786,1.76],[1.809,1.63],[1.832,1.92],[1.856,2.24],[1.880,2.56],[1.898,2.32],[1.917,2.00],
[1.941,1.92],[1.967,2.16],[1.993,2.56],[2.019,3.13],[2.045,3.56],[2.071,3.85],[2.098,3.98],[2.126,3.94],[2.154,3.73],[2.181,3.21],
[2.202,2.56],[2.224,2.08],[2.252,1.76],[2.282,1.84],[2.311,1.60],[2.341,1.76],[2.371,1.92],[2.402,2.05],[2.433,2.16],[2.465,2.08],
[2.497,1.76],[2.529,1.56],[2.562,1.63],[2.595,1.79],[2.629,2.00],[2.664,1.76],[2.698,1.60],[2.733,1.84],[2.769,1.68],[2.805,1.92],
[2.841,2.05],[2.878,2.11],[2.915,2.27],[2.953,2.40],[2.982,2.65],[3.001,3.45],[3.020,2.24],[3.049,2.56],[3.079,2.32],[3.109,1.92],
[3.139,1.60],[3.170,1.44],[3.201,1.40],[3.232,1.52],[3.263,1.68],[3.295,1.60],[3.327,1.35],[3.359,1.44],[3.392,1.52],[3.425,1.44],
[3.447,1.34],[3.480,1.52],[3.514,1.68],[3.560,2.02],[3.594,2.16],[3.629,2.32],[3.676,2.40],[3.712,3.05],[3.736,3.68],[3.772,4.02],
[3.809,4.21],[3.846,4.34],[3.883,4.66],[3.921,5.02],[3.947,5.39],[3.985,5.84],[4.024,6.11],[4.062,6.23],[4.089,5.87],[4.102,5.56],
[4.129,5.31],[4.142,5.13],[4.169,5.47],[4.209,5.79],[4.236,5.31],[4.264,4.95],[4.291,4.02],[4.305,3.34],[4.333,3.69],[4.361,3.90],
[4.389,3.45],[4.432,2.95],[4.475,2.65],[4.533,2.34],[4.577,2.81],[4.621,3.18],[4.666,3.29],[4.727,3.34],[4.788,3.21],[4.835,3.16],
[4.898,3.18],[4.945,3.13],[4.993,3.53],[5.042,3.84],[5.091,3.61],[5.157,3.40],[5.207,3.61],[5.275,3.79],[5.326,3.45],[5.395,3.05],
[5.447,2.90],[5.518,2.97],[5.571,2.85],[5.625,2.84],[5.698,2.92],[5.753,2.81],[5.828,2.79],[5.885,2.89],[5.961,3.05],[6.019,3.13],
[6.077,3.21],[6.156,3.40],[6.216,3.45],[6.276,3.52],[6.338,3.29],[6.399,2.97],[6.461,2.73],[6.503,2.56],[6.587,2.60],[6.652,2.53],
[6.716,2.52],[6.803,2.65],[6.891,2.79],[6.958,2.65],[7.025,2.56],[7.094,2.52],[7.186,2.40],[7.256,2.32],[7.326,2.29],[7.422,2.40],
[7.494,2.32],[7.591,2.37],[7.665,2.34],[7.764,2.24],[7.865,2.27],[7.993,2.23],[8.097,2.32],[8.175,2.40],[8.282,2.48],[8.361,2.52],
[8.470,2.65],[8.580,2.76],[8.719,2.90],[8.832,2.89],[8.946,2.97],[9.034,3.05],[9.122,3.02],[9.240,3.13],[9.360,3.21],[9.450,3.29],
[9.512,3.34],[9.604,3.24],[9.729,3.21],[9.855,3.24],[9.951,3.29],[10.05,3.40],[10.11,3.37],[10.18,3.45],[10.24,3.21],[10.34,3.05],
[10.44,2.97],[10.51,2.90],[10.61,2.97],[10.75,2.90],[10.86,3.05],[11.00,3.13],[11.10,3.18],[11.21,3.08],[11.32,3.02],[11.47,3.02],
[11.58,2.89],[11.73,2.73],[11.84,2.73],[11.96,2.85],[12.11,2.92],[12.23,2.95],[12.35,2.73],[12.51,2.60],[12.68,2.52],[12.84,2.40],
[13.05,2.34],[13.22,2.34],[13.44,2.31],[13.65,2.29],[13.87,2.24],[14.14,2.23]
];
const red2M0559 = [
[0.798,1.02],[0.824,1.05],[0.851,1.11],[0.871,1.19],[0.891,1.29],[0.908,1.47],[0.920,1.73],[0.929,1.52],[0.944,1.68],[0.959,1.84],
[0.975,2.08],[0.990,2.34],[1.006,2.53],[1.023,2.73],[1.039,2.97],[1.056,3.21],[1.070,3.34],[1.080,3.40],[1.087,3.42],[1.094,3.21],
[1.098,2.90],[1.108,2.56],[1.116,2.34],[1.123,2.56],[1.134,2.68],[1.141,2.56],[1.148,2.90],[1.156,2.73],[1.159,2.52],[1.167,2.24],
[1.171,1.95],[1.174,2.56],[1.182,3.24],[1.190,3.61],[1.197,3.95],[1.209,4.34],[1.221,4.58],[1.229,4.73],[1.237,4.50],[1.241,4.13],
[1.245,4.58],[1.249,4.90],[1.257,5.15],[1.265,5.29],[1.273,5.34],[1.285,5.37],[1.294,5.31],[1.298,5.26],[1.306,5.34],[1.310,5.37],
[1.319,5.27],[1.323,4.90],[1.328,3.05],[1.332,2.13],[1.340,1.45],[1.353,1.37],[1.362,1.34],[1.376,1.44],[1.385,1.52],[1.398,1.40],
[1.407,1.34],[1.421,1.47],[1.430,1.56],[1.444,1.84],[1.462,2.13],[1.476,2.48],[1.486,2.65],[1.495,2.84],[1.510,3.29],[1.520,3.79],
[1.530,4.34],[1.545,4.90],[1.560,5.39],[1.570,5.68],[1.580,5.82],[1.585,5.90],[1.595,5.85],[1.606,5.71],[1.611,5.63],[1.621,5.31],
[1.627,5.13],[1.637,5.47],[1.648,5.66],[1.653,5.79],[1.658,5.31],[1.664,4.63],[1.675,4.82],[1.680,4.95],[1.691,4.66],[1.696,4.45],
[1.707,4.47],[1.718,4.39],[1.729,4.02],[1.735,3.68],[1.746,3.37],[1.757,3.18],[1.763,2.81],[1.774,2.34],[1.792,2.31],[1.803,2.40],
[1.815,2.29],[1.826,2.08],[1.844,1.68],[1.856,1.60],[1.874,1.52],[1.886,1.92],[1.892,2.34],[1.904,2.24],[1.911,2.13],[1.929,1.92],
[1.941,1.84],[1.954,1.79],[1.967,2.24],[1.986,2.68],[1.999,3.05],[2.019,3.40],[2.038,3.69],[2.065,3.87],[2.091,3.94],[2.112,3.95],
[2.133,3.89],[2.147,3.79],[2.168,3.66],[2.181,3.52],[2.195,3.13],[2.202,2.68],[2.217,2.56],[2.231,2.45],[2.252,2.29],[2.274,2.13],
[2.296,1.92],[2.311,1.79],[2.326,1.73],[2.348,1.84],[2.371,1.90],[2.394,2.08],[2.410,2.24],[2.425,2.29],[2.449,2.21],[2.465,2.13],
[2.481,2.13],[2.497,1.84],[2.513,1.63],[2.529,1.52],[2.562,1.55],[2.587,1.68],[2.604,1.84],[2.629,2.06],[2.655,1.84],[2.681,1.52],
[2.707,1.63],[2.733,1.79],[2.760,1.68],[2.778,1.56],[2.805,1.76],[2.832,1.95],[2.859,1.98],[2.878,2.02],[2.906,2.16],[2.925,2.29],
[2.953,2.44],[2.972,2.56],[2.991,3.05],[3.001,3.68],[3.010,3.05],[3.020,1.84],[3.030,2.24],[3.049,2.73],[3.069,2.56],[3.099,2.40],
[3.119,2.08],[3.139,1.73],[3.170,1.63],[3.190,1.63],[3.221,1.76],[3.242,1.90],[3.274,2.05],[3.295,2.13],[3.306,1.76],[3.327,1.18],
[3.348,1.44],[3.370,1.68],[3.392,1.79],[3.425,1.89],[3.447,1.94],[3.480,2.03],[3.514,2.13],[3.537,2.32],[3.560,2.52],[3.594,2.89],
[3.618,3.13],[3.641,3.24],[3.665,3.77],[3.700,4.34],[3.724,4.66],[3.736,4.84],[3.760,5.15],[3.784,5.34],[3.809,5.66],[3.846,6.02],
[3.871,6.15],[3.908,6.23],[3.934,6.44],[3.972,6.84],[3.998,7.05],[4.011,7.13],[4.037,7.18],[4.062,7.23],[4.075,7.08],[4.102,6.73],
[4.115,6.35],[4.129,6.02],[4.155,6.08],[4.169,6.13],[4.209,6.23],[4.236,6.29],[4.264,6.24],[4.291,6.18],[4.305,4.34],[4.333,4.58],
[4.361,4.73],[4.389,4.42],[4.404,4.06],[4.432,3.53],[4.446,2.95],[4.490,2.56],[4.533,2.23],[4.563,2.48],[4.606,2.84],[4.636,2.97],
[4.681,3.06],[4.727,2.97],[4.788,2.84],[4.835,2.82],[4.882,2.79],[4.929,2.69],[4.961,2.52],[4.993,3.84],[5.042,3.69],[5.074,3.56],
[5.124,3.21],[5.157,3.06],[5.207,3.45],[5.241,3.79],[5.275,3.85],[5.326,4.06],[5.360,3.21],[5.395,2.65],[5.430,2.34],[5.465,2.73],
[5.518,2.95],[5.553,2.81],[5.607,2.68],[5.644,2.89],[5.698,2.73],[5.735,2.56],[5.790,2.65],[5.828,2.40],[5.866,2.56],[5.923,2.97],
[5.980,3.18],[6.019,2.56],[6.058,2.18],[6.097,2.73],[6.156,3.24],[6.216,3.45],[6.276,3.56],[6.317,3.37],[6.378,3.06],[6.440,2.81],
[6.503,2.63],[6.566,2.56],[6.609,2.52],[6.695,2.44],[6.781,2.40],[6.869,2.56],[6.936,2.73],[7.003,2.56],[7.071,2.44],[7.117,2.40],
[7.186,2.32],[7.256,2.24],[7.326,2.23],[7.422,2.27],[7.494,2.23],[7.567,2.40],[7.616,2.56],[7.665,2.68],[7.714,2.32],[7.739,2.02],
[7.815,2.08],[7.916,2.08],[7.993,2.06],[8.071,2.16],[8.175,2.27],[8.255,2.34],[8.334,2.48],[8.443,2.60],[8.525,2.68],[8.636,2.73],
[8.719,2.76],[8.832,2.79],[8.918,2.85],[9.005,2.89],[9.122,2.95],[9.240,3.02],[9.330,3.08],[9.420,3.13],[9.542,3.21],[9.635,3.24],
[9.729,3.29],[9.855,3.34],[9.919,2.89],[9.951,2.63],[10.02,3.05],[10.11,3.29],[10.18,3.21],[10.28,3.18],[10.38,2.73],[10.44,2.34],
[10.54,2.56],[10.61,2.68],[10.75,2.81],[10.86,2.90],[10.96,2.92],[11.10,2.95],[11.21,2.81],[11.35,2.73],[11.47,2.79],[11.58,2.84],
[11.69,2.65],[11.84,2.45],[11.96,2.32],[12.11,2.18],[12.23,2.32],[12.39,2.40],[12.51,2.32],[12.68,2.23],[12.84,2.16],[12.97,2.11],
[13.09,2.13],[13.26,2.19],[13.39,2.23],[13.52,2.15],[13.65,2.06],[13.83,2.11],[13.96,2.16],[14.14,2.18]
];

// Absorption bands marked under the spectra: [main text, subscript, trailing text, wavelength µm]
const bandLabels = [
  ["H", "2", "O", 1.152], ["H", "2", "O", 1.398], ["H", "2", "O", 1.948], ["CO", "", "", 2.296],
  ["H", "2", "O", 2.805], ["CH", "4", "", 3.403], ["CO", "", "", 4.681], ["H", "2", "O", 6.000],
  ["CH", "4", "", 7.739], ["NH", "3", "", 11.51]
];

// Axis ticks
const xMajorTicks = [1, 10];
const xMinorTicks = [0.8, 0.9, 2, 3, 4, 5, 6, 7, 8, 9];
const yTicks = d3.range(0, 19);

const W = 1011, H = 1297;
const mL = 118, mR = 1013, mT = 12.5, mB = 1215;

const svg = d3.select("body").append("svg")
  .attr("width", W).attr("height", H)
  .style("font-family", "'Liberation Serif', 'DejaVu Serif', serif");

const x = d3.scaleLog().domain([0.798, 14.25]).range([mL, mR]);
const y = d3.scaleLinear().domain([-0.42, 18.98]).range([mB, mT]);

const line = d3.line()
  .defined(d => d[1] !== null)
  .x(d => x(d[0]))
  .y(d => y(d[1]));

const plot = svg.append("g");

// Observed spectra (black): the dense ground-based near-IR part is drawn heavier
const observed = [obs2M0036, obsSD0805, obsSD1052, obs2M0559];
const blueModels = [blue2M0036, blueSD0805, blueSD1052, blue2M0559];
const redModels = [red2M0036, redSD0805, redSD1052, red2M0559];

observed.forEach(s => {
  plot.append("path").datum(s).attr("d", line)
    .attr("fill", "none").attr("stroke", "#000").attr("stroke-width", 1.7).attr("stroke-linejoin", "round");
  plot.append("path").datum(s.filter(d => d[0] < 2.6)).attr("d", line)
    .attr("fill", "none").attr("stroke", "#000").attr("stroke-width", 2.6).attr("stroke-linejoin", "round");
});
blueModels.forEach(s => plot.append("path").datum(s).attr("d", line)
  .attr("fill", "none").attr("stroke", "#0000ff").attr("stroke-width", 1.1).attr("stroke-dasharray", "13,6"));
redModels.forEach(s => plot.append("path").datum(s).attr("d", line)
  .attr("fill", "none").attr("stroke", "#ff0000").attr("stroke-width", 1.1));

// Axes: inward ticks on all four sides
function styleAxis(g) {
  g.select(".domain").remove();
  g.selectAll(".tick line").attr("stroke", "#000").attr("stroke-width", 1.5);
}
svg.append("g").attr("transform", `translate(0,${mB})`)
  .call(d3.axisBottom(x).tickValues(xMinorTicks).tickSizeInner(-8).tickSizeOuter(0).tickFormat(""))
  .call(styleAxis);
svg.append("g").attr("transform", `translate(0,${mB})`)
  .call(d3.axisBottom(x).tickValues(xMajorTicks).tickSizeInner(-15).tickSizeOuter(0).tickPadding(20).tickFormat(d3.format("d")))
  .call(styleAxis)
  .call(g => g.selectAll("text").attr("font-size", 27).attr("font-family", "'Liberation Serif', serif").attr("fill", "#000"));
svg.append("g").attr("transform", `translate(0,${mT})`)
  .call(d3.axisTop(x).tickValues(xMinorTicks).tickSizeInner(-8).tickSizeOuter(0).tickFormat(""))
  .call(styleAxis);
svg.append("g").attr("transform", `translate(0,${mT})`)
  .call(d3.axisTop(x).tickValues(xMajorTicks).tickSizeInner(-15).tickSizeOuter(0).tickFormat(""))
  .call(styleAxis);
svg.append("g").attr("transform", `translate(${mL},0)`)
  .call(d3.axisLeft(y).tickValues(yTicks).tickSizeInner(-15).tickSizeOuter(0).tickFormat(""))
  .call(styleAxis);
svg.append("g").attr("transform", `translate(${mR},0)`)
  .call(d3.axisRight(y).tickValues(yTicks).tickSizeInner(-15).tickSizeOuter(0).tickFormat(""))
  .call(styleAxis);

// Frame
svg.append("rect").attr("x", mL).attr("y", mT).attr("width", mR - mL).attr("height", mB - mT)
  .attr("fill", "none").attr("stroke", "#000").attr("stroke-width", 2);

// Axis titles
const xt = svg.append("text").attr("x", 443).attr("y", 1290).attr("font-size", 29)
  .attr("textLength", 247).attr("lengthAdjust", "spacingAndGlyphs");
xt.append("tspan").text("Wavelength ");
xt.append("tspan").attr("font-style", "italic").text("\u03BC");
xt.append("tspan").text("m");

svg.append("text").attr("transform", "translate(37,745) rotate(-90)")
  .attr("font-size", 29).attr("textLength", 260).attr("lengthAdjust", "spacingAndGlyphs")
  .text("Relative Flux Jy");

// Band labels
const bl = svg.append("g").attr("font-size", 22).attr("text-anchor", "middle");
bandLabels.forEach(([a, sub, b, wl]) => {
  const t = bl.append("text").attr("x", x(wl)).attr("y", 1183);
  t.append("tspan").text(a);
  if (sub) t.append("tspan").attr("font-size", 14).attr("dy", 7).text(sub);
  if (b) t.append("tspan").attr("dy", -7).text(b);
});

// Object names and model legends
function label(txt, x0, base, len, color) {
  svg.append("text").attr("x", x0).attr("y", base).attr("font-size", 23)
    .attr("fill", color).attr("textLength", len).attr("lengthAdjust", "spacingAndGlyphs").text(txt);
}
function sample(x0, x1, yy, color, dashed) {
  const p = svg.append("line").attr("x1", x0).attr("x2", x1).attr("y1", yy).attr("y2", yy)
    .attr("stroke", color).attr("stroke-width", 1.2);
  if (dashed) p.attr("stroke-dasharray", "14,7");
}

label("2M0036 L4", 766, 82, 136, "#000");
sample(695, 762, 110, "#0000ff", true);
label("1800/5.0/f3/K2", 767, 119, 205, "#0000ff");
sample(695, 752, 153, "#ff0000", false);
label("1700/5.5/f3/K2", 762, 163, 205, "#ff0000");
label("+ 1700/5.5/f3/K2", 762, 188, 236, "#ff0000");

sample(339, 397, 310, "#ff0000", false);
label("1600/5.0/f3/K4", 405, 318, 205, "#ff0000");
label("+ 1000/4.5/nc/K4", 405, 342, 243, "#ff0000");
label("SD 0805 L9.5", 732, 380, 168, "#000");
sample(695, 762, 394, "#0000ff", true);
label("1600/5.5/f3/K4", 767, 403, 205, "#0000ff");

sample(232, 288, 518, "#ff0000", false);
label("1400/5.0/f2/K4", 299, 528, 204, "#ff0000");
label("+ 1100/5.0/f4/K4", 299, 553, 236, "#ff0000");
label("SD 1052AB T0.5", 698, 543, 202, "#000");
sample(695, 762, 557, "#0000ff", true);
label("1300/5.5/f3/K4", 767, 566, 205, "#0000ff");

label("2M0559 T4.5", 741, 826, 160, "#000");
sample(696, 760, 840, "#0000ff", true);
label("1200/4.5/nc/K2", 762, 850, 210, "#0000ff");
sample(696, 752, 878, "#ff0000", false);
label("1200/5.5/f4/K4", 762, 887, 205, "#ff0000");
label("+ 1200/5.5/f4/K4", 762, 912, 237, "#ff0000");
</script>
</body>
</html>
